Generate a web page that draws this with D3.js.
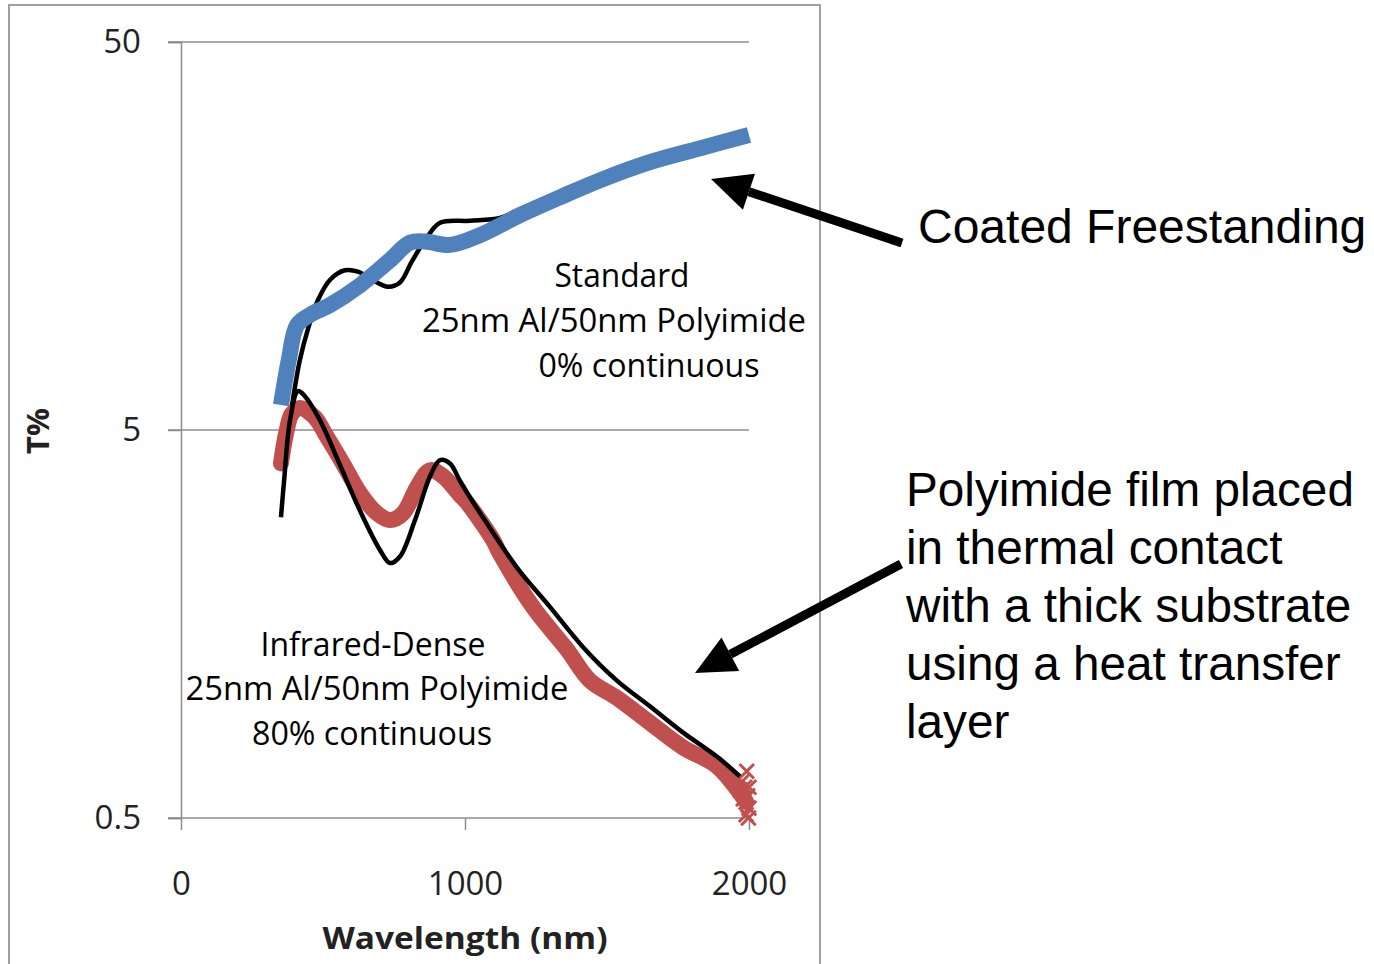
<!DOCTYPE html>
<html>
<head>
<meta charset="utf-8">
<script src="https://cdn.jsdelivr.net/npm/d3@7"></script>
<style>
  body { margin: 0; background: #fff; }
  .tick text { font-family: "Open Sans", sans-serif; fill: #222; }
</style>
</head>
<body>
<div class="chart"></div>
<script>
var svgWidth = 1374;
var svgHeight = 964;

// wavelength (nm) / transmission (%)
var blueWl = [352, 380, 408, 454, 525, 630, 736, 806, 860, 947, 1053, 1194, 1335, 1475, 1651, 1827, 2000];
var blueT  = [5.8, 7.6, 9.3, 9.9, 10.5, 11.8, 13.7, 15.2, 15.3, 15.0, 15.9, 17.9, 19.9, 22.0, 24.5, 26.6, 28.8];

var stdWl = [391, 419, 447, 482, 525, 577, 623, 673, 729, 771, 813, 859, 912, 1018, 1123, 1176, 1335, 1475, 1651, 1827, 1995];
var stdT  = [5.8, 7.6, 9.1, 10.8, 12.2, 12.9, 12.8, 12.2, 11.7, 12.0, 13.6, 15.4, 17.1, 17.3, 17.6, 18.2, 19.9, 22.0, 24.4, 26.4, 28.4];

var redWl = [352, 370, 390, 419, 470, 514, 570, 630, 690, 736, 782, 831, 877, 923, 982, 1007, 1099, 1123, 1239, 1359, 1440, 1535, 1651, 1768, 1887, 1968, 1990];
var redT  = [4.1, 4.9, 5.5, 5.7, 5.4, 4.8, 4.1, 3.44, 3.05, 2.93, 3.05, 3.56, 3.94, 3.8, 3.4, 3.25, 2.6, 2.4, 1.75, 1.36, 1.13, 1.02, 0.88, 0.76, 0.68, 0.58, 0.55];

var denseWl = [352, 363, 384, 412, 437, 489, 560, 630, 701, 736, 771, 824, 877, 912, 947, 982, 1035, 1063, 1183, 1299, 1415, 1535, 1651, 1768, 1887, 1968];
var denseT  = [2.98, 3.7, 5.3, 6.3, 6.1, 5.3, 4.06, 3.1, 2.45, 2.27, 2.36, 2.93, 3.8, 4.18, 4.1, 3.7, 3.2, 2.98, 2.21, 1.75, 1.38, 1.13, 0.97, 0.83, 0.72, 0.64];

// the scattered crosses at the red end
var redTailWl = [1975, 1985, 1995, 2000, 1990, 1980, 2000, 1992, 1970, 1998];
var redTailT  = [0.62, 0.6, 0.57, 0.53, 0.51, 0.56, 0.6, 0.66, 0.59, 0.5];

var yTicks = [0.5, 5, 50];
var xTicks = [0, 1000, 2000];

var svg = d3.select(".chart").append("svg")
  .attr("width", svgWidth)
  .attr("height", svgHeight);

// outer frame of the chart
svg.append("rect")
  .attr("x", 9).attr("y", 5)
  .attr("width", 811).attr("height", 980)
  .attr("fill", "none").attr("stroke", "#a0a0a0").attr("stroke-width", 2);

var x = d3.scaleLinear().domain([0, 2000]).range([181, 749]);
var y = d3.scaleLog().domain([0.5, 50]).range([818, 42]);

// gridlines
svg.append("g").selectAll("line")
  .data(yTicks)
  .enter().append("line")
  .attr("x1", 168).attr("x2", 749)
  .attr("y1", d => y(d)).attr("y2", d => y(d))
  .attr("stroke", "#8c8c8c").attr("stroke-width", 1.5);

var leftAxis = d3.axisLeft(y).tickValues(yTicks).tickSize(13).tickPadding(27)
  .tickFormat(d => d);
var yAxis = svg.append("g").attr("transform", "translate(181,0)").call(leftAxis);
yAxis.select(".domain").attr("stroke", "#8c8c8c").attr("stroke-width", 1.5);
yAxis.selectAll(".tick line").attr("stroke", "#8c8c8c").attr("stroke-width", 1.5);
yAxis.selectAll(".tick text").attr("font-size", 33);

var bottomAxis = d3.axisBottom(x).tickValues(xTicks).tickSize(12).tickPadding(42)
  .tickFormat(d3.format("d"));
var xAxis = svg.append("g").attr("transform", "translate(0,818)").call(bottomAxis);
xAxis.select(".domain").remove();
xAxis.selectAll(".tick line").attr("stroke", "#8c8c8c").attr("stroke-width", 1.5);
xAxis.selectAll(".tick text").attr("font-size", 33);

function pts(wl, t) {
  return wl.map((w, i) => [w, t[i]]);
}

var line = d3.line()
  .x(d => x(d[0]))
  .y(d => y(d[1]))
  .curve(d3.curveCatmullRom);

var cross = d3.symbol().type(d3.symbolX).size(140);

// red band
svg.append("path")
  .datum(pts(redWl, redT))
  .attr("d", line)
  .attr("fill", "none").attr("stroke", "#c0504d")
  .attr("stroke-width", 16).attr("stroke-linejoin", "round").attr("stroke-linecap", "round");

svg.append("g").selectAll("path")
  .data(pts(redTailWl, redTailT))
  .enter().append("path")
  .attr("d", cross)
  .attr("transform", d => `translate(${x(d[0])},${y(d[1])})`)
  .attr("fill", "none").attr("stroke", "#c0504d").attr("stroke-width", 3);

// black reference curves
[pts(denseWl, denseT), pts(stdWl, stdT)].forEach(function(data) {
  svg.append("path")
    .datum(data)
    .attr("d", line)
    .attr("fill", "none").attr("stroke", "#000")
    .attr("stroke-width", 4.5).attr("stroke-linejoin", "round");
});

// blue band
svg.append("path")
  .datum(pts(blueWl, blueT))
  .attr("d", line)
  .attr("fill", "none").attr("stroke", "#4f81bd")
  .attr("stroke-width", 16).attr("stroke-linejoin", "round");

// axis titles
svg.append("text")
  .attr("x", 465).attr("y", 949)
  .attr("text-anchor", "middle")
  .attr("font-family", "Open Sans, sans-serif").attr("font-weight", "bold")
  .attr("font-size", 31).attr("textLength", 285).attr("lengthAdjust", "spacingAndGlyphs")
  .attr("fill", "#222")
  .text("Wavelength (nm)");

svg.append("text")
  .attr("transform", "translate(49,431) rotate(-90)")
  .attr("text-anchor", "middle")
  .attr("font-family", "Open Sans, sans-serif").attr("font-weight", "bold")
  .attr("font-size", 31)
  .attr("fill", "#222")
  .text("T%");

// labels inside the plot
var notes = [
  { t: "Standard", x: 622, y: 287, w: 135 },
  { t: "25nm Al/50nm Polyimide", x: 614, y: 332, w: 384 },
  { t: "0% continuous", x: 649, y: 377, w: 221 },
  { t: "Infrared-Dense", x: 373, y: 656, w: 225 },
  { t: "25nm Al/50nm Polyimide", x: 377, y: 700, w: 383 },
  { t: "80% continuous", x: 372, y: 745, w: 240 }
];

svg.append("g").selectAll("text")
  .data(notes)
  .enter().append("text")
  .attr("x", d => d.x).attr("y", d => d.y)
  .attr("text-anchor", "middle")
  .attr("font-family", "Open Sans, sans-serif")
  .attr("font-size", 33)
  .attr("textLength", d => d.w).attr("lengthAdjust", "spacingAndGlyphs")
  .attr("fill", "#000")
  .text(d => d.t);

// annotations on the right
svg.append("text")
  .attr("x", 918).attr("y", 243)
  .attr("font-family", "Liberation Sans, Arial, sans-serif")
  .attr("font-size", 48)
  .text("Coated Freestanding");

var polyLines = ["Polyimide film placed", "in thermal contact", "with a thick substrate", "using a heat transfer", "layer"];
svg.append("g").selectAll("text")
  .data(polyLines)
  .enter().append("text")
  .attr("x", 906).attr("y", (d, i) => 506 + i * 58)
  .attr("font-family", "Liberation Sans, Arial, sans-serif")
  .attr("font-size", 47.7)
  .text(d => d);

// arrows
function arrow(x1, y1, x2, y2) {
  var ang = Math.atan2(y2 - y1, x2 - x1);
  var headLen = 40, headHalf = 19;
  var bx = x2 - headLen * Math.cos(ang), by = y2 - headLen * Math.sin(ang);
  svg.append("line")
    .attr("x1", x1).attr("y1", y1).attr("x2", bx).attr("y2", by)
    .attr("stroke", "#000").attr("stroke-width", 9);
  var px = -Math.sin(ang), py = Math.cos(ang);
  svg.append("polygon")
    .attr("points", [[x2, y2], [bx + px * headHalf, by + py * headHalf], [bx - px * headHalf, by - py * headHalf]].join(" "))
    .attr("fill", "#000");
}
arrow(902, 243, 711, 179);
arrow(901, 564, 695, 673);
</script>
</body>
</html>
